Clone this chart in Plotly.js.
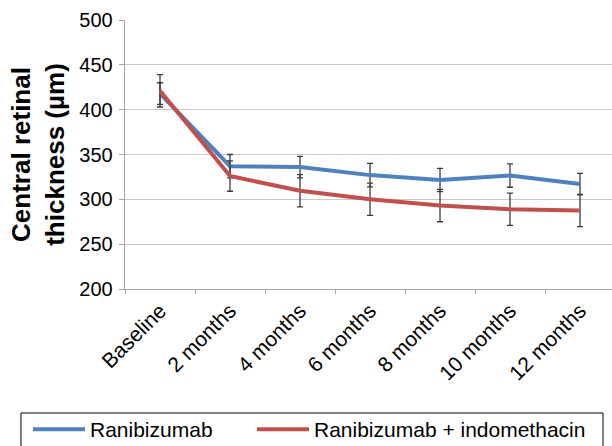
<!DOCTYPE html>
<html>
<head>
<meta charset="utf-8">
<script src="https://cdn.plot.ly/plotly-3.0.1.min.js"></script>
<style>html,body{margin:0;padding:0;background:#fff;}#chart{width:612px;height:446px;}</style>
</head>
<body>
<div id="chart"></div>
<script>
const categories = ["Baseline", "2 months", "4 months", "6 months", "8 months", "10 months", "12 months"];
const ranibizumab = [418, 337, 336, 327, 321.5, 326.5, 317];
const ranibizumabErr = [12, 13, 12, 13, 13, 13, 12];
const combo = [421, 326, 309.5, 300, 293, 289, 287.5];
const comboErr = [18, 17, 18, 18, 18, 18, 18];
const seriesNames = ["Ranibizumab", "Ranibizumab + indomethacin"];

const font = "Liberation Sans, Arial, sans-serif";
const errStyle = {type: "data", visible: true, color: "#3a3a3a", thickness: 1.3, width: 3};

const traces = [
  {x: categories, y: ranibizumab, name: seriesNames[0], type: "scatter", mode: "lines",
   line: {color: "#4F81BD", width: 4}, legend: "legend",
   error_y: Object.assign({array: ranibizumabErr}, errStyle)},
  {x: categories, y: combo, name: seriesNames[1], type: "scatter", mode: "lines",
   line: {color: "#C0504D", width: 4}, legend: "legend2",
   error_y: Object.assign({array: comboErr}, errStyle)}
];

const legendCommon = {
  orientation: "h", xref: "container", yref: "container", y: 1 - 409/446, yanchor: "top", xanchor: "left",
  borderwidth: 0, bgcolor: "rgba(0,0,0,0)",
  font: {family: font, size: 21, color: "#000"},
  itemwidth: 52
};

const layout = {
  width: 612, height: 446,
  margin: {l: 125, r: 0, t: 20, b: 157},
  paper_bgcolor: "#fff", plot_bgcolor: "#fff",
  font: {family: font, size: 21, color: "#000"},
  showlegend: true,
  xaxis: {
    type: "category", range: [-0.5, 6.457], automargin: false,
    tickangle: -45, tickson: "boundaries",
    ticks: "outside", ticklen: 4, tickcolor: "#a6a6a6",
    showline: true, linecolor: "#a6a6a6", linewidth: 1.3,
    showgrid: false, zeroline: false,
    tickfont: {family: font, size: 21, color: "#000"}
  },
  yaxis: {
    range: [200, 500], dtick: 50, automargin: false,
    ticks: "outside", ticklen: 5, tickcolor: "#a6a6a6",
    showline: true, linecolor: "#a6a6a6", linewidth: 1.3,
    showgrid: true, gridcolor: "#c8c8c8", gridwidth: 1.3, zeroline: false,
    tickfont: {family: font, size: 20, color: "#000"},
    ticklabelstandoff: 2,
    title: {text: "Central retinal<br>thickness (µm)", font: {family: font, size: 26, color: "#000", weight: "bold"}, standoff: 7}
  },
  legend: Object.assign({x: 28/612}, legendCommon),
  legend2: Object.assign({x: 252/612}, legendCommon),
  shapes: [{
    type: "rect", xref: "paper", yref: "paper",
    x0: -0.2136, x1: 0.9815, y0: -0.461, y1: -0.59,
    line: {color: "#000", width: 1}, fillcolor: "rgba(0,0,0,0)"
  }]
};

Plotly.newPlot("chart", traces, layout, {displayModeBar: false, staticPlot: true});
</script>
</body>
</html>
